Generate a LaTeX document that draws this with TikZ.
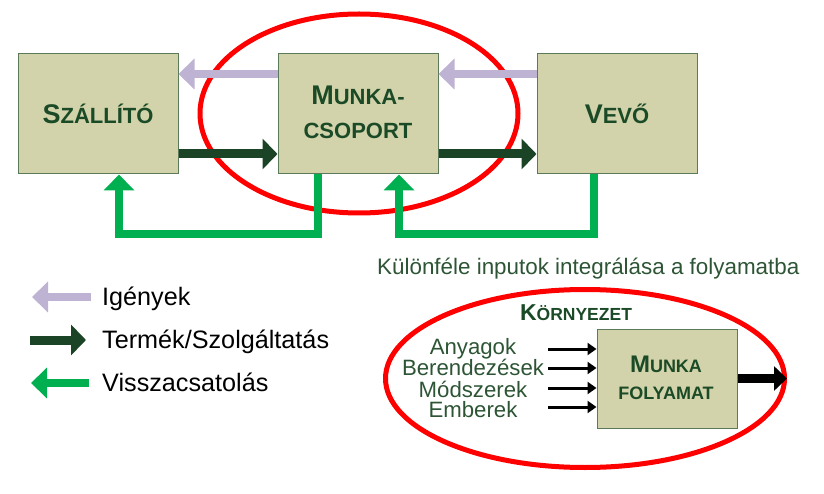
\documentclass[tikz,border=0pt]{standalone}
\usepackage{fontspec}
\setmainfont{Liberation Sans}
\usetikzlibrary{arrows.meta,shapes.geometric}
\definecolor{boxfill}{HTML}{D2D3AA}
\definecolor{boxline}{HTML}{5A7A5A}
\definecolor{lav}{HTML}{BFB3D3}
\definecolor{dkg}{HTML}{1B4426}
\definecolor{fbg}{HTML}{00B050}
\definecolor{txtg}{HTML}{1B4A27}
\definecolor{txtl}{HTML}{2D5535}
\newcommand{\scTop}[2]{{\fontsize{27pt}{30pt}\selectfont #1}{\fontsize{22pt}{26pt}\selectfont #2}}
\newcommand{\scBot}[2]{{\fontsize{24pt}{28pt}\selectfont #1}{\fontsize{18pt}{22pt}\selectfont #2}}
\begin{document}
\begin{tikzpicture}[x=1pt,y=-1pt,
  box/.style={draw=boxline, line width=1pt, fill=boxfill, minimum width=160pt, minimum height=120pt, inner sep=0pt},
  pbox/.style={draw=boxline, line width=1pt, fill=boxfill, minimum width=140pt, minimum height=99pt, inner sep=0pt},
  lbl/.style={anchor=base, text=txtg, font=\bfseries, inner sep=0pt},
  ring/.style={draw=red, line width=5pt, ellipse, inner sep=0pt},
  req/.style={draw=lav, line width=8pt, -{Triangle[length=16pt,width=30pt]}},
  prod/.style={draw=dkg, line width=9pt, -{Triangle[length=15pt,width=30pt]}},
  fb/.style={draw=fbg, line width=8pt, -{Triangle[length=16pt,width=30pt]}},
  inp/.style={draw=black, line width=3pt, -{Triangle[length=9pt,width=12pt]}},
  outp/.style={draw=black, line width=9pt, -{Triangle[length=13pt,width=24pt]}},
  legtxt/.style={anchor=base west, inner sep=0pt, font=\fontsize{25.2pt}{29pt}\selectfont},
  intxt/.style={anchor=base, inner sep=0pt, text=txtl, font=\fontsize{22.2pt}{26pt}\selectfont}]
\useasboundingbox (0,0) rectangle (824,494);
% rings (background)
\node[ring, minimum width=318pt, minimum height=199pt] (ringTop) at (359,113.5) {};
\node[ring, minimum width=399pt, minimum height=178pt] (ringBot) at (585,378.5) {};
% boxes
\node[box] (szallito) at (98,114) {};
\node[box] (munka) at (358,114) {};
\node[box] (vevo) at (617,114) {};
\node[lbl] (lSz) at (98,124) {\scTop{S}{ZÁLLÍTÓ}};
\node[lbl] (lMu1) at (358,105) {\scTop{M}{UNKA-}};
\node[lbl] (lMu2) at (358,139) {\fontsize{22pt}{26pt}\selectfont CSOPORT};
\node[lbl] (lVe) at (617,123.5) {\scTop{V}{EVŐ}};
% arrows
\draw[req] ([yshift=40pt]munka.west) -- ([yshift=40pt]szallito.east);
\draw[req] ([yshift=40pt]vevo.west) -- ([yshift=40pt]munka.east);
\draw[prod] ([yshift=-40pt]szallito.east) -- ([yshift=-40pt]munka.west);
\draw[prod] ([yshift=-40pt]munka.east) -- ([yshift=-40pt]vevo.west);
\draw[fb] ([xshift=-40pt]munka.south) -- ++(0,60) -| ([xshift=21pt]szallito.south);
\draw[fb] ([xshift=-23pt]vevo.south) -- ++(0,60) -| ([xshift=41pt]munka.south);
% legend
\coordinate (lg1a) at (91,297); \coordinate (lg1b) at (32,297);
\coordinate (lg2a) at (30,340); \coordinate (lg2b) at (86,340);
\coordinate (lg3a) at (89,383); \coordinate (lg3b) at (31,383);
\draw[req] (lg1a) -- (lg1b);
\draw[prod] (lg2a) -- (lg2b);
\draw[fb] (lg3a) -- (lg3b);
\node[legtxt] (tIg) at (102,305) {Igények};
\node[legtxt] (tTe) at (102,348) {Termék/Szolgáltatás};
\node[legtxt] (tVi) at (102,391) {Visszacsatolás};
% lower part
\node[anchor=base west, inner sep=0pt, text=txtl, font=\fontsize{22.4pt}{26pt}\selectfont] (title) at (377,274) {Különféle inputok integrálása a folyamatba};
\node[lbl] (korny) at (576,320) {{\fontsize{23pt}{26pt}\selectfont K}{\fontsize{17.5pt}{20pt}\selectfont ÖRNYEZET}};
\node[pbox] (proc) at (667,378.5) {};
\node[lbl] (lP1) at (666,372.5) {\scBot{M}{UNKA}};
\node[lbl] (lP2) at (666,399) {\fontsize{18pt}{22pt}\selectfont FOLYAMAT};
\coordinate (i1) at (548,349); \coordinate (i2) at (548,368);
\coordinate (i3) at (548,388); \coordinate (i4) at (548,407);
\draw[inp] (i1) -- (proc.west |- i1);
\draw[inp] (i2) -- (proc.west |- i2);
\draw[inp] (i3) -- (proc.west |- i3);
\draw[inp] (i4) -- (proc.west |- i4);
\node[intxt] (a1) at (473,354) {Anyagok};
\node[intxt] (a2) at (473,375.5) {Berendezések};
\node[intxt] (a3) at (473,397) {Módszerek};
\node[intxt] (a4) at (473,417) {Emberek};
\draw[outp] (proc.east) -- (ringBot.east);
\end{tikzpicture}
\end{document}
